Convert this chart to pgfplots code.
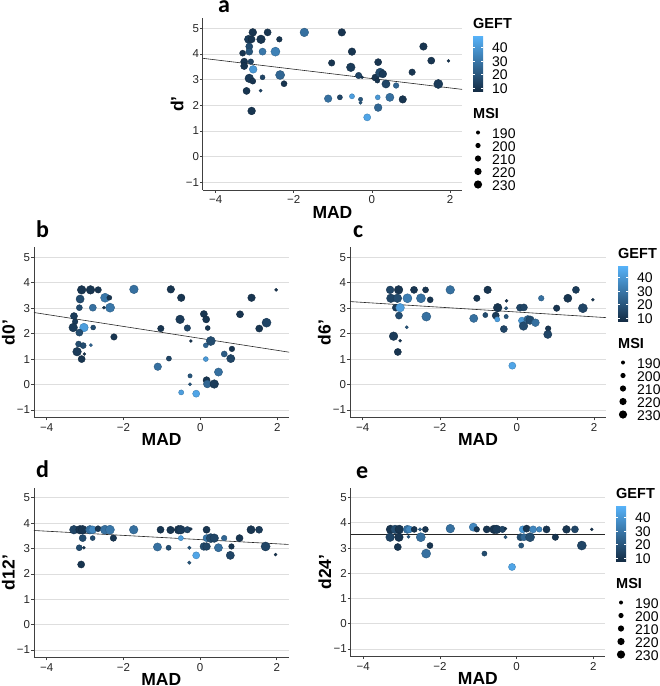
\documentclass[border=0pt]{standalone}
\usepackage{fontspec}
\setmainfont{Liberation Sans}
\newfontfamily\carlito{Carlito}
\usepackage{pgfplots}
\pgfplotsset{compat=1.18}
\usepackage{pgfplotstable}
\definecolor{gglow}{RGB}{19,43,67}
\definecolor{gghigh}{RGB}{86,177,247}
\newcommand\tickfont{\fontsize{11.5}{12}\selectfont}
\newcommand\axtitle{\fontsize{17.5}{18}\selectfont\bfseries}
\newcommand\legtitle{\fontsize{14.5}{15}\selectfont\bfseries}
\newcommand\leglab{\fontsize{14}{14}\selectfont}
\newcommand\panellet{\fontsize{24}{24}\selectfont\carlito\bfseries}

\pgfplotstableread{
x y g r
-3.05 4.84 10 3.6
-2.67 4.84 10 3.3
-3.16 4.57 12 3.8
-3.08 4.57 10 3.3
-2.84 4.57 10 4.0
-2.37 4.57 10 2.6
-3.14 4.29 17 3.3
-3.31 4.03 10 2.8
-3.14 4.09 20 3.3
-2.80 4.09 30 3.3
-2.47 4.09 33 4.2
-3.27 3.70 10 3.3
-3.10 3.70 15 2.6
-3.27 3.53 10 3.3
-3.04 3.40 40 3.6
-2.35 3.18 25 4.2
-2.80 3.09 15 2.3
-3.14 3.05 12 4.0
-3.05 2.94 10 2.8
-2.25 2.84 10 2.8
-3.21 2.56 10 3.3
-2.85 2.57 15 1.5
-3.08 1.78 10 3.6
-1.73 4.84 28 4.0
-0.77 4.84 10 3.5
-0.51 4.09 10 3.5
-1.03 3.65 10 3.0
-0.54 3.48 12 4.0
-0.34 3.16 15 3.0
-0.25 3.09 10 1.4
-1.12 2.26 28 3.5
-0.82 2.31 15 2.4
-0.51 2.35 42 2.4
-0.29 2.23 20 2.0
-0.29 2.10 20 1.5
-0.12 1.53 44 3.3
0.16 3.68 10 3.3
0.09 3.08 10 3.3
0.14 2.96 10 2.3
0.21 3.27 17 4.2
0.28 3.22 12 3.6
0.36 2.83 15 3.8
0.62 2.77 25 2.6
0.15 2.31 40 2.3
0.16 1.91 25 3.6
0.46 2.31 28 3.8
0.79 2.23 10 3.5
1.03 3.29 10 3.0
1.32 4.29 10 3.5
1.52 3.74 10 3.3
1.70 2.83 12 4.2
1.96 3.73 10 1.4
}\dataA

\pgfplotstableread{
x y g r
-3.09 3.72 10 4.0
-2.86 3.72 10 4.0
-2.66 3.72 10 3.0
-3.13 3.36 17 3.8
-2.48 3.41 30 4.2
-2.37 3.41 10 2.3
-3.15 3.02 17 2.8
-2.80 3.02 28 3.3
-2.35 3.02 30 4.2
-2.51 3.02 10 1.4
-3.29 2.69 12 3.3
-3.26 2.47 12 2.6
-3.31 2.24 12 4.0
-3.03 2.24 42 4.0
-3.15 2.04 17 3.3
-2.79 2.24 17 2.3
-2.25 1.87 10 3.0
-3.17 1.59 17 2.8
-3.05 1.53 17 2.8
-2.85 1.55 25 1.5
-3.21 1.29 12 4.0
-3.02 1.20 10 1.4
-3.09 1.00 10 3.3
-1.73 3.74 28 4.0
-0.77 3.74 10 3.5
-0.50 3.41 10 3.5
-0.53 2.56 12 4.0
-1.03 2.20 10 3.0
-0.34 2.22 15 3.0
-0.25 1.71 10 1.4
-1.11 0.70 28 3.5
-0.82 1.02 15 2.4
-0.50 -0.31 42 2.4
-0.11 -0.36 44 3.3
-0.27 0.34 20 2.0
-0.27 0.01 20 1.5
0.09 2.77 10 3.3
0.15 2.56 10 3.3
0.19 2.22 10 2.3
0.14 1.54 25 2.3
0.27 1.71 17 4.2
0.14 1.00 40 2.3
0.16 0.17 10 3.3
0.18 0.02 25 3.6
0.36 0.02 12 4.0
0.47 0.49 28 3.8
0.62 1.20 22 2.8
0.79 1.02 15 3.8
0.82 1.40 10 2.6
1.03 2.76 10 3.3
1.33 3.41 10 3.5
1.53 2.20 10 3.3
1.72 2.43 15 4.2
1.97 3.72 10 1.4
}\dataB

\pgfplotstableread{
x y g r
-3.29 3.72 15 3.6
-3.07 3.72 10 4.0
-2.67 3.72 10 3.3
-2.37 3.72 10 2.8
-3.27 3.39 15 4.0
-3.10 3.39 17 4.0
-2.84 3.39 32 4.2
-2.49 3.39 28 4.2
-2.25 3.33 10 2.8
-3.14 3.02 12 3.3
-3.03 3.02 42 4.0
-3.06 2.71 17 3.3
-2.35 2.67 28 4.2
-2.86 2.25 20 1.5
-3.20 1.90 12 4.0
-3.03 1.72 10 1.4
-3.09 1.28 10 3.3
-1.73 3.72 28 4.0
-0.76 3.72 10 3.5
-1.04 3.39 10 3.0
-0.82 2.73 17 2.4
-1.12 2.60 28 3.8
-0.50 3.02 10 4.0
-0.55 2.71 12 3.3
-0.51 2.56 42 2.4
-0.27 3.29 10 1.4
-0.28 3.00 20 1.6
-0.28 2.67 20 2.0
-0.34 2.18 15 3.3
-0.12 0.74 44 3.3
0.08 3.02 15 3.3
0.18 3.03 15 3.3
0.13 2.51 40 3.3
0.17 2.30 17 4.0
0.28 2.56 25 3.6
0.34 2.53 17 4.0
0.48 2.43 28 3.6
0.63 3.39 28 2.6
0.81 2.20 10 2.6
0.80 1.97 15 3.8
1.03 3.00 10 3.0
1.32 3.39 10 3.8
1.53 3.72 12 3.3
1.71 3.00 15 4.2
1.97 3.33 10 1.4
}\dataC

\pgfplotstableread{
x y g r
-3.29 3.74 15 4.0
-3.13 3.74 10 4.0
-3.06 3.74 10 4.0
-2.87 3.74 28 4.0
-2.80 3.74 35 3.6
-2.66 3.78 10 2.8
-2.48 3.74 28 4.2
-2.35 3.74 30 4.2
-3.06 3.41 17 3.3
-2.80 3.41 17 2.3
-2.26 3.41 10 3.0
-3.15 3.03 17 2.8
-3.03 3.03 10 1.4
-3.10 2.37 10 3.3
-1.73 3.74 28 4.0
-1.03 3.74 10 3.3
-0.77 3.73 10 3.5
-0.56 3.74 10 4.0
-0.50 3.74 12 4.0
-0.33 3.74 15 3.0
-0.24 3.77 10 1.4
-0.50 3.41 42 2.4
-1.11 3.06 28 3.8
-0.82 3.03 17 2.4
-0.28 3.03 20 1.6
-0.28 2.44 20 1.6
-0.10 2.73 44 3.3
0.17 3.74 10 3.3
0.17 3.41 30 3.3
0.10 3.08 17 3.6
0.17 3.08 15 3.6
0.28 3.41 17 4.2
0.37 3.41 15 4.0
0.48 3.03 28 3.8
0.63 3.41 25 2.6
0.82 3.08 10 2.6
0.79 2.73 15 3.8
1.03 3.41 10 3.3
1.33 3.74 10 3.8
1.54 3.74 12 3.3
1.71 3.08 15 4.2
1.97 2.76 10 1.4
}\dataD

\pgfplotstableread{
x y g r
-3.29 3.74 10 4.0
-3.17 3.74 17 4.0
-3.06 3.74 10 4.0
-2.85 3.74 28 3.8
-2.80 3.74 35 3.3
-2.67 3.74 10 2.8
-2.52 3.74 25 1.5
-2.38 3.74 10 2.8
-1.73 3.77 28 4.0
-1.13 3.83 35 3.8
-1.04 3.74 10 2.6
-0.78 3.74 10 3.3
-0.59 3.74 10 4.0
-0.52 3.74 12 4.0
-0.37 3.74 15 3.0
-0.29 3.77 10 1.4
-3.30 3.43 15 4.0
-3.07 3.43 10 4.0
-2.82 3.45 20 1.5
-2.50 3.43 28 4.2
-2.26 3.10 10 2.8
-3.10 3.04 10 3.3
-2.36 2.78 28 4.2
-0.84 2.78 17 2.4
-0.29 3.43 20 1.6
-0.12 2.25 44 3.3
0.10 3.43 17 3.3
0.19 3.43 25 3.3
0.12 3.10 20 2.4
0.16 3.74 40 3.3
0.26 3.77 10 3.3
0.35 3.43 17 4.2
0.43 3.74 35 3.3
0.59 3.74 35 2.6
0.78 3.74 10 3.3
1.01 3.43 10 3.0
1.30 3.74 10 3.6
1.52 3.74 15 3.3
1.70 3.10 15 4.2
1.96 3.74 10 1.4
}\dataE

\pgfplotsset{
  panel/.style={
    scale only axis, clip=false,
    xmin=-4.33, xmax=2.31, ymin=-1.3, ymax=5.4,
    axis x line*=bottom, axis y line*=left,
    axis line style={black!75, line width=0.7pt},
    xtick={-4,-2,0,2}, xticklabels={−4,−2,0,2},
    ytick={-1,0,1,2,3,4,5}, yticklabels={−1,0,1,2,3,4,5},
    tick align=outside, major tick length=2.7pt,
    tick style={black!75, line width=0.6pt},
    ymajorgrids, grid style={black!13, line width=0.7pt},
    ticklabel style={font=\tickfont, text=black!85},
    xticklabel style={inner sep=0pt, anchor=north, yshift=-3pt},
    yticklabel style={inner sep=0pt, anchor=east, xshift=-1pt},
    point meta min=7, point meta max=48,
    colormap={gg}{rgb255=(19,43,67) rgb255=(86,177,247)},
  },
  pts/.style={scatter, only marks, mark=*, point meta=\thisrow{g},
    visualization depends on={1.08*\thisrow{r}\as\rad},
    scatter/@pre marker code/.append style={/tikz/mark size=\rad}},
  fit/.style={black!85, line width=0.6pt, no marks},
}

\newcommand\axlabels[1]{%
  \node[font=\axtitle, anchor=base, inner sep=0pt] at ([yshift=-28pt]axis description cs:0.5,0) {MAD};
  \node[font=\axtitle, rotate=90, anchor=base, inner sep=0pt] at ([xshift=-19.5pt]axis description cs:0,0.5) {#1};
}

\newcommand\legendblock[2]{%
  \begin{scope}[shift={(#1pt,-#2pt)}, x=1pt, y=1pt]
    \node[anchor=base west, inner sep=0pt, font=\legtitle] at (0,0) {GEFT};
    \shade[bottom color=gglow, top color=gghigh] (0,-8.5) rectangle (10,-63.5);
    \foreach \yy in {-19.5,-33,-46.5,-60} {
      \draw[white, line width=0.5pt] (0,\yy) -- (2,\yy) (8,\yy) -- (10,\yy);
    }
    \node[anchor=base west, inner sep=0pt, font=\leglab] at (19,-24.5) {40};
    \node[anchor=base west, inner sep=0pt, font=\leglab] at (19,-38) {30};
    \node[anchor=base west, inner sep=0pt, font=\leglab] at (19,-51.5) {20};
    \node[anchor=base west, inner sep=0pt, font=\leglab] at (19,-65) {10};
    \node[anchor=base west, inner sep=0pt, font=\legtitle] at (0,-90) {MSI};
    \fill (5,-104.5) circle (2.0);
    \fill (5,-117.5) circle (2.6);
    \fill (5,-130.5) circle (3.1);
    \fill (5,-143.5) circle (3.6);
    \fill (5,-156.5) circle (4.1);
    \node[anchor=base west, inner sep=0pt, font=\leglab] at (19,-110) {190};
    \node[anchor=base west, inner sep=0pt, font=\leglab] at (19,-123) {200};
    \node[anchor=base west, inner sep=0pt, font=\leglab] at (19,-136) {210};
    \node[anchor=base west, inner sep=0pt, font=\leglab] at (19,-149) {220};
    \node[anchor=base west, inner sep=0pt, font=\leglab] at (19,-162) {230};
  \end{scope}
}

\begin{document}
\begin{tikzpicture}
\path[use as bounding box] (0pt,0pt) rectangle (660pt,-686pt);

% panel a
\begin{axis}[panel, width=259.3pt, height=172pt, at={(202.8pt,-190pt)}, anchor=south west]
\addplot[pts] table[x=x,y=y] {\dataA};
\addplot[fit] coordinates {(-4.33,3.83) (2.31,2.62)};
\axlabels{d’}
\end{axis}

% panel b
\begin{axis}[panel, width=255.2pt, height=170.5pt, at={(34pt,-417.6pt)}, anchor=south west]
\addplot[pts] table[x=x,y=y] {\dataB};
\addplot[fit] coordinates {(-4.33,2.83) (2.31,1.27)};
\axlabels{d0’}
\end{axis}

% panel c
\begin{axis}[panel, width=256pt, height=170.5pt, at={(350pt,-417.6pt)}, anchor=south west]
\addplot[pts] table[x=x,y=y] {\dataC};
\addplot[fit] coordinates {(-4.33,3.26) (2.31,2.63)};
\axlabels{d6’}
\end{axis}

% panel d
\begin{axis}[panel, width=254.6pt, height=170pt, at={(34pt,-657.6pt)}, anchor=south west]
\addplot[pts] table[x=x,y=y] {\dataD};
\addplot[fit] coordinates {(-4.33,3.71) (2.31,3.16)};
\axlabels{d12’}
\end{axis}

% panel e
\begin{axis}[panel, width=254.6pt, height=169pt, at={(350.6pt,-656.5pt)}, anchor=south west]
\addplot[pts] table[x=x,y=y] {\dataE};
\addplot[fit] coordinates {(-4.33,3.56) (2.31,3.56)};
\axlabels{d24’}
\end{axis}

% panel letters
\node[anchor=base west, inner sep=0pt, font=\panellet] at (218pt,-12.7pt) {a};
\node[anchor=base west, inner sep=0pt, font=\panellet] at (36pt,-237pt) {b};
\node[anchor=base west, inner sep=0pt, font=\panellet] at (353pt,-237pt) {c};
\node[anchor=base west, inner sep=0pt, font=\panellet] at (36pt,-477.5pt) {d};
\node[anchor=base west, inner sep=0pt, font=\panellet] at (356pt,-478pt) {e};

% legends
\legendblock{473}{28}
\legendblock{618}{258}
\legendblock{616}{498}
\end{tikzpicture}
\end{document}
